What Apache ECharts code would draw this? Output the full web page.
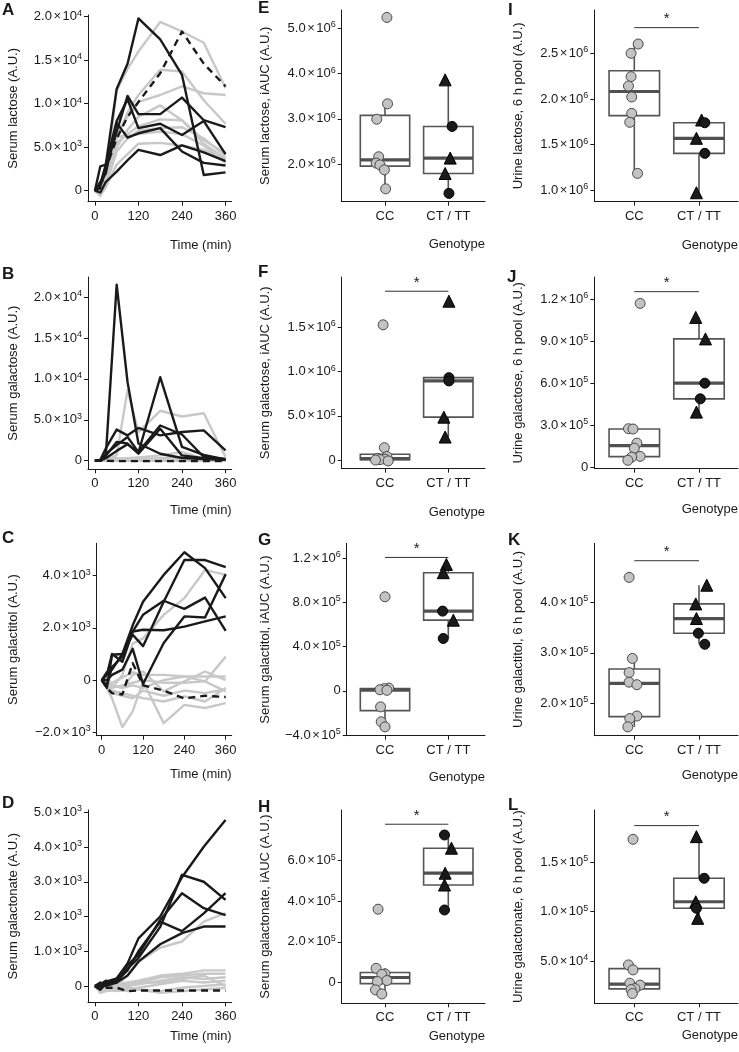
<!DOCTYPE html>
<html><head><meta charset="utf-8">
<script src="https://cdn.jsdelivr.net/npm/echarts@6/dist/echarts.min.js"></script>
<style>html,body{margin:0;padding:0;background:#fff}#c{width:739px;height:1052px}</style>
</head><body><div id="c"></div>
<script>
// ---------------- DATA ----------------
const TIME = [0, 15, 30, 60, 90, 120, 180, 240, 300, 360];
const TIME_TICKS = [0, 120, 240, 360];
const GENOTYPES = ['CC', 'CT / TT'];

// A: serum lactose time courses
const A_cc = [
  [0, -400, 1500, 11500, 14000, 16000, 19400, 18300, 17000, 11800],
  [0, -600, 800, 6000, 9000, 11000, 13900, 13700, 10400, 7700],
  [0, -300, 1200, 6500, 8500, 10200, 11000, 12000, 11200, 11000],
  [0, -500, 700, 5000, 7000, 8500, 9800, 8100, 5800, 4300],
  [0, -400, 900, 5500, 6500, 7400, 8200, 8100, 5400, 3700],
  [0, -300, 600, 4500, 6000, 6900, 7200, 7300, 6000, 4000],
  [0, -500, 400, 3000, 4200, 5400, 5500, 5200, 4700, 3600],
  [0, -200, 1000, 6200, 6300, 6500, 6800, 6500, 5200, 3200]
];
const A_ct = [
  [0, 2800, 3000, 11700, 14600, 19800, 17400, 13300, 1800, 2100],
  [0, 500, 2500, 6800, 10900, 8800, 8800, 10700, 8100, 7300],
  [0, 800, 3000, 8000, 10500, 7200, 7700, 6400, 8000, 4200],
  [0, -200, 1000, 2200, 3500, 4700, 4100, 5200, 4400, 3400],
  [0, 1000, 2000, 7800, 6100, 6600, 7200, 4500, 3200, 2900]
];
const A_dash = [0, 300, 2500, 6000, 8500, 10200, 13500, 18300, 14600, 12000];
const A_ticks = [0, 5000, 10000, 15000, 20000];

// B: serum galactose
const B_cc = [
  [0, 0, 100, 650, 8600, 3500, 6100, 5400, 5800, 450],
  [0, 0, 50, 200, 300, 400, 650, 1050, 250, 100],
  [0, 0, 0, 100, 150, 200, 300, 500, 200, 50],
  [0, 0, 0, 50, 100, 150, 200, 150, 100, 50],
  [0, 0, 0, 0, 50, 50, 100, 100, 50, 0],
  [0, 50, 100, 300, 200, 100, 100, 50, 50, 0],
  [0, 0, 50, 100, 100, 50, 50, 0, 0, 0],
  [0, 0, 0, 0, 0, 0, 0, 0, 0, 0]
];
const B_ct = [
  [0, 0, 500, 21500, 9600, 2100, 850, 330, 200, 100],
  [0, 0, 300, 1200, 2000, 1000, 10200, 1700, 700, 150],
  [0, 100, 1500, 3800, 3100, 4000, 3100, 3500, 3700, 1250],
  [0, 0, 800, 1900, 2900, 1050, 4300, 3200, 450, 200],
  [0, 0, 600, 2300, 2100, 850, 3900, 650, 300, 100]
];
const B_dash = [0, 0, -20, -50, -50, -50, -50, -50, -50, -50];
const B_ticks = [0, 5000, 10000, 15000, 20000];

// C: serum galactitol
const C_cc = [
  [0, -100, -300, 200, 1400, 1600, 2500, 3140, 4220, 4030],
  [0, -300, -700, -1800, -1200, -50, -1650, -950, -1070, -880],
  [0, 100, -200, -300, 200, 330, -430, -50, 330, 0],
  [0, -200, -100, 100, 300, 200, 200, 140, 140, 140],
  [0, -200, -400, -500, -600, -690, -820, -625, -820, -300],
  [0, 0, -300, -200, -100, 0, -100, -100, -50, 900],
  [0, -100, -200, -300, -200, -300, 0, 140, -50, -430],
  [0, -300, -500, -600, -700, -400, -600, -400, -500, -350]
];
const C_ct = [
  [0, -300, 970, 1000, 2100, 3000, 4030, 4900, 4290, 3140],
  [0, 300, 400, 1000, 1740, 1300, 3000, 4600, 4600, 4330],
  [0, -200, 500, 900, 1860, 2500, 3040, 2730, 3160, 1890],
  [0, 200, 1000, 700, 1860, 1930, 1910, 2050, 2250, 2440],
  [0, 0, 200, 400, 1200, -150, 1420, 2440, 2400, 4060]
];
const C_dash = [0, -300, -500, -550, 650, -200, -400, -700, -600, -650];
const C_ticks = [-2000, 0, 2000, 4000];

// D: serum galactonate
const D_cc = [
  [0, -50, -100, 0, 300, 700, 1100, 1280, 1850, 2100],
  [0, -100, -50, 50, 100, 150, 300, 350, 450, 450],
  [0, -150, -100, -50, 50, 100, 250, 300, 350, 350],
  [0, -100, -150, -100, 0, 50, 150, 250, 200, 250],
  [0, -50, -100, -150, -100, -50, 50, 150, 100, 150],
  [0, -200, -150, -100, -150, -100, -150, -50, 0, 50],
  [0, -100, -50, 0, -50, -100, -200, -150, -100, -50],
  [0, -50, 0, 50, 0, 100, 100, 200, 300, 0]
];
const D_ct = [
  [0, -100, 120, 220, 650, 1370, 2000, 3130, 4010, 4780],
  [0, 100, 0, 100, 500, 800, 1700, 3200, 3000, 2480],
  [0, 0, 100, 200, 600, 900, 1900, 2670, 2240, 2040],
  [0, -100, 50, 150, 450, 1000, 1850, 1580, 2090, 2670],
  [0, 50, 150, 100, 300, 700, 1200, 1520, 1710, 1710]
];
const D_dash = [0, -100, -50, -50, -150, -130, -130, -130, -130, -130];
const D_ticks = [0, 1000, 2000, 3000, 4000, 5000];

// E-L: per-subject values (CC group and CT/TT group)
const E_cc = [5.24e6, 3.33e6, 2.99e6, 2.16e6, 2.02e6, 1.98e6, 1.87e6, 1.45e6];
const E_cc_jit = [0.03, 0.04, -0.13, -0.10, -0.14, -0.08, -0.01, 0.01];
const E_ct = [3.86e6, 2.83e6, 2.13e6, 1.79e6, 1.35e6];
const E_ct_shape = ['tri', 'circ', 'tri', 'tri', 'circ'];
const E_ct_jit = [-0.05, 0.06, 0.03, -0.05, 0.01];
const E_ticks = [2e6, 3e6, 4e6, 5e6];

const F_cc = [1.53e6, 0.14e6, 0.04e6, 0.02e6, 0.01e6, 0.005e6, 0, -0.01e6];
const F_cc_jit = [-0.03, -0.01, 0.03, -0.12, 0.0, -0.08, -0.15, 0.05];
const F_ct = [1.797e6, 0.932e6, 0.895e6, 0.485e6, 0.26e6];
const F_ct_shape = ['tri', 'circ', 'circ', 'tri', 'tri'];
const F_ct_jit = [0.01, 0.01, 0.01, -0.07, -0.05];
const F_sig = 1.91e6;
const F_ticks = [0, 5e5, 1e6, 1.5e6];

const G_cc = [0.852e6, 0.025e6, 0.02e6, 0.01e6, 0.005e6, -0.145e6, -0.28e6, -0.326e6];
const G_cc_jit = [0, 0.06, -0.01, -0.08, 0.03, -0.07, -0.06, 0];
const G_ct = [1.145e6, 1.07e6, 0.722e6, 0.64e6, 0.474e6];
const G_ct_shape = ['tri', 'tri', 'circ', 'tri', 'circ'];
const G_ct_jit = [-0.03, -0.08, -0.09, 0.08, -0.08];
const G_sig = 1.208e6;
const G_ticks = [-4e5, 0, 4e5, 8e5, 1.2e6];

const H_cc = [3.61e5, 0.70e5, 0.43e5, 0.40e5, 0.10e5, 0.05e5, -0.36e5, -0.56e5];
const H_cc_jit = [-0.11, -0.14, 0, -0.05, 0.03, -0.12, -0.15, -0.05];
const H_ct = [7.26e5, 6.61e5, 5.38e5, 4.80e5, 3.57e5];
const H_ct_shape = ['circ', 'tri', 'tri', 'tri', 'circ'];
const H_ct_jit = [-0.06, 0.05, -0.05, -0.06, -0.06];
const H_sig = 7.79e5;
const H_ticks = [0, 2e5, 4e5, 6e5];

const I_cc = [2.602e6, 2.5e6, 2.245e6, 2.142e6, 2.022e6, 1.843e6, 1.745e6, 1.186e6];
const I_cc_jit = [0.06, -0.05, -0.05, -0.09, -0.04, -0.04, -0.07, 0.05];
const I_ct = [1.77e6, 1.74e6, 1.57e6, 1.405e6, 0.974e6];
const I_ct_shape = ['tri', 'circ', 'tri', 'circ', 'tri'];
const I_ct_jit = [0.04, 0.09, -0.04, 0.09, -0.04];
const I_sig = 2.781e6;
const I_ticks = [1e6, 1.5e6, 2e6, 2.5e6];

const J_cc = [11.71e5, 2.74e5, 2.72e5, 1.71e5, 1.35e5, 0.76e5, 0.71e5, 0.48e5];
const J_cc_jit = [0.09, -0.09, -0.02, 0.04, 0, 0.09, -0.04, -0.1];
const J_ct = [10.71e5, 9.17e5, 6.0e5, 4.88e5, 3.93e5];
const J_ct_shape = ['tri', 'tri', 'circ', 'circ', 'tri'];
const J_ct_jit = [-0.05, 0.1, 0.09, 0.02, -0.04];
const J_sig = 12.55e5;
const J_ticks = [0, 3e5, 6e5, 9e5, 1.2e6];

const K_cc = [4.495e5, 2.89e5, 2.61e5, 2.42e5, 2.37e5, 1.75e5, 1.70e5, 1.535e5];
const K_cc_jit = [-0.08, -0.03, -0.08, -0.08, 0.04, 0.04, -0.07, -0.1];
const K_ct = [4.34e5, 3.97e5, 3.68e5, 3.39e5, 3.17e5];
const K_ct_shape = ['tri', 'tri', 'tri', 'circ', 'circ'];
const K_ct_jit = [0.12, -0.05, -0.04, -0.01, 0.09];
const K_sig = 4.825e5;
const K_ticks = [2e5, 3e5, 4e5];

const L_cc = [17.33e4, 4.6e4, 4.1e4, 2.75e4, 2.55e4, 2.2e4, 2.1e4, 1.7e4];
const L_cc_jit = [-0.02, -0.09, -0.02, -0.07, 0.09, 0.01, -0.05, -0.03];
const L_ct = [17.6e4, 13.38e4, 11.0e4, 10.34e4, 9.32e4];
const L_ct_shape = ['tri', 'circ', 'tri', 'circ', 'tri'];
const L_ct_jit = [-0.04, 0.08, -0.05, -0.04, -0.02];
const L_sig = 18.72e4;
const L_ticks = [5e4, 1e5, 1.5e5];

// ---------------- LAYOUT / STYLE ----------------
const FONT = "'Liberation Sans', Arial, Helvetica, sans-serif";
const INK = '#1a1a1a';
const GRAY_LINE = '#c8c8c8';
const BOX_W = 0.78;

function sciLabel(v) {
  if (Math.abs(v) < 1e-9) return '{m|0}';
  const neg = v < 0, a = Math.abs(v);
  const e = Math.floor(Math.log10(a) + 1e-9);
  const m = (a / Math.pow(10, e)).toFixed(1);
  return '{m|' + (neg ? '\u2212' : '') + m + '}{x|\u00d7}{m|10}{e|' + e + '}';
}
const RICH = {
  m: {fontSize: 13, fontFamily: FONT, color: INK, lineHeight: 16},
  x: {fontSize: 13, fontFamily: FONT, color: INK, lineHeight: 16, padding: [0, 1.5, 0, 1.5]},
  e: {fontSize: 9, fontFamily: FONT, color: INK, lineHeight: 9, verticalAlign: 'top'}
};

function q7(s, p) { const h = (s.length - 1) * p, lo = Math.floor(h), hi = Math.ceil(h); return s[lo] + (h - lo) * (s[hi] - s[lo]); }
function boxStats(vals) {
  const s = vals.slice().sort((a, b) => a - b);
  const q1 = q7(s, 0.25), med = q7(s, 0.5), q3 = q7(s, 0.75), iqr = q3 - q1;
  const lo = Math.min.apply(null, s.filter(v => v >= q1 - 1.5 * iqr));
  const hi = Math.max.apply(null, s.filter(v => v <= q3 + 1.5 * iqr));
  return [q1, med, q3, lo, hi];
}

const grids = [], xAxes = [], yAxes = [], series = [], titles = [];
const axisLineStyle = {color: INK, width: 1};

function addTitle(t, left, top) {
  titles.push({text: t, left: left, top: top, padding: 0,
    textStyle: {fontSize: 17, fontWeight: 'bold', fontFamily: FONT, color: INK}});
}

function makeAxes(g, box, xr, xticks, xfmt, xname, namePad, yr, yticks, yname, ygap) {
  grids.push({left: box[0], top: box[1], width: box[2] - box[0], height: box[3] - box[1],
    containLabel: false, outerBoundsMode: 'none'});
  xAxes.push({type: 'value', gridIndex: g, min: xr[0], max: xr[1],
    axisLine: {show: true, onZero: false, lineStyle: axisLineStyle},
    axisTick: {show: true, customValues: xticks, length: 4, lineStyle: axisLineStyle},
    axisLabel: {customValues: xticks, formatter: xfmt, margin: 8, fontSize: 13, fontFamily: FONT, color: INK},
    splitLine: {show: false},
    name: xname, nameLocation: 'end', nameGap: 0,
    nameTextStyle: {align: 'right', verticalAlign: 'top', padding: [namePad, 0, 0, 0], fontSize: 13, fontFamily: FONT, color: INK}
  });
  yAxes.push({type: 'value', gridIndex: g, min: yr[0], max: yr[1],
    axisLine: {show: true, onZero: false, lineStyle: axisLineStyle},
    axisTick: {show: true, customValues: yticks, length: 4, lineStyle: axisLineStyle},
    axisLabel: {customValues: yticks, formatter: sciLabel, rich: RICH, margin: 6},
    splitLine: {show: false},
    name: yname, nameLocation: 'middle', nameGap: ygap,
    nameTextStyle: {fontSize: 13, fontFamily: FONT, color: INK}
  });
}

function linePanel(p) {
  const g = grids.length;
  makeAxes(g, p.box, p.xr, TIME_TICKS, v => String(v), 'Time (min)', p.namePad, p.yr, p.ticks, p.yname, p.ygap);
  const mk = (arr, color, type, z) => ({type: 'line', xAxisIndex: g, yAxisIndex: g, silent: true, animation: false,
    data: TIME.map((t, j) => [t, arr[j]]), symbol: 'none', z: z,
    lineStyle: {color: color, width: 2.4, type: type, cap: 'butt', join: 'round'}});
  p.gray.forEach(a => series.push(mk(a, GRAY_LINE, 'solid', 2)));
  p.black.forEach(a => series.push(mk(a, INK, 'solid', 3)));
  series.push(mk(p.dash, INK, [7, 5], 3));
}

function boxPanel(p) {
  const g = grids.length;
  const c1 = p.centers[0], c2 = p.centers[1], u = c2 - c1;
  const xr = [1 - (c1 - p.box[0]) / u, 2 + (p.box[2] - c2) / u];
  makeAxes(g, p.box, xr, [1, 2], v => GENOTYPES[Math.round(v) - 1], 'Genotype', p.namePad, p.yr, p.ticks, p.yname, p.ygap);
  series.push({type: 'custom', xAxisIndex: g, yAxisIndex: g, silent: true, animation: false, z: 2,
    data: [[1].concat(boxStats(p.cc)), [2].concat(boxStats(p.ct))],
    renderItem: (params, api) => {
      const x = api.value(0);
      const w = api.size([BOX_W, 0])[0];
      const pq1 = api.coord([x, api.value(1)]), pm = api.coord([x, api.value(2)]), pq3 = api.coord([x, api.value(3)]);
      const plo = api.coord([x, api.value(4)]), phi = api.coord([x, api.value(5)]);
      const st = {stroke: '#555', lineWidth: 1.6};
      return {type: 'group', children: [
        {type: 'line', shape: {x1: phi[0], y1: phi[1], x2: pq3[0], y2: pq3[1]}, style: st},
        {type: 'line', shape: {x1: pq1[0], y1: pq1[1], x2: plo[0], y2: plo[1]}, style: st},
        {type: 'rect', shape: {x: pq3[0] - w / 2, y: pq3[1], width: w, height: pq1[1] - pq3[1]}, style: {fill: '#fff', stroke: '#555', lineWidth: 1.6}},
        {type: 'line', shape: {x1: pm[0] - w / 2, y1: pm[1], x2: pm[0] + w / 2, y2: pm[1]}, style: {stroke: '#505050', lineWidth: 3.2}}
      ]};
    }});
  series.push({type: 'scatter', xAxisIndex: g, yAxisIndex: g, silent: true, animation: false, z: 4,
    data: p.cc.map((v, j) => [1 + p.ccJit[j], v]), symbol: 'circle', symbolSize: 10,
    itemStyle: {color: '#c3c3c3', borderColor: '#4a4a4a', borderWidth: 1, opacity: 1}});
  series.push({type: 'scatter', xAxisIndex: g, yAxisIndex: g, silent: true, animation: false, z: 4,
    data: p.ct.map((v, j) => ({value: [2 + p.ctJit[j], v],
      symbol: p.ctShape[j] === 'tri' ? 'triangle' : 'circle', symbolSize: p.ctShape[j] === 'tri' ? 12 : 10})),
    itemStyle: {color: INK, borderColor: '#000', borderWidth: 1, opacity: 1}});
  if (p.sig !== undefined) {
    series.push({type: 'custom', xAxisIndex: g, yAxisIndex: g, silent: true, animation: false, z: 5,
      data: [[1, 2, p.sig]],
      renderItem: (params, api) => {
        const a = api.coord([api.value(0), api.value(2)]), b = api.coord([api.value(1), api.value(2)]);
        return {type: 'group', children: [
          {type: 'line', shape: {x1: a[0], y1: a[1], x2: b[0], y2: b[1]}, style: {stroke: '#333', lineWidth: 1}},
          {type: 'text', style: {text: '*', x: (a[0] + b[0]) / 2, y: a[1] - 1, align: 'center', verticalAlign: 'bottom',
            fontSize: 15, fontFamily: FONT, fill: INK}}
        ]};
      }});
  }
}

// Column 1
linePanel({box: [88, 15, 231.7, 201.7], xr: [-19, 377], yr: [-1264, 20195], ticks: A_ticks, yname: 'Serum lactose (A.U.)', ygap: 68, namePad: 37,
  gray: A_cc, black: A_ct, dash: A_dash});
linePanel({box: [88, 277, 231.7, 469.3], xr: [-19, 377], yr: [-1050, 22445], ticks: B_ticks, yname: 'Serum galactose (A.U.)', ygap: 68, namePad: 35,
  gray: B_cc, black: B_ct, dash: B_dash});
linePanel({box: [96.7, 543.3, 231.7, 735.7], xr: [-14.5, 377.4], yr: [-2130, 5241], ticks: C_ticks, yname: 'Serum galactitol (A.U.)', ygap: 77, namePad: 32,
  gray: C_cc, black: C_ct, dash: C_dash});
linePanel({box: [88, 810, 231.7, 1002.3], xr: [-19, 377], yr: [-470, 5066], ticks: D_ticks, yname: 'Serum galactonate (A.U.)', ygap: 68, namePad: 28,
  gray: D_cc, black: D_ct, dash: D_dash});

// Column 2
const C2 = [385, 448.3];
boxPanel({box: [341.7, 10, 485, 201.7], centers: C2, yr: [1.166e6, 5.405e6], ticks: E_ticks, yname: 'Serum lactose, iAUC (A.U.)', ygap: 70, namePad: 36,
  cc: E_cc, ccJit: E_cc_jit, ct: E_ct, ctShape: E_ct_shape, ctJit: E_ct_jit});
boxPanel({box: [341.7, 277, 485, 468.7], centers: C2, yr: [-0.098e6, 2.071e6], ticks: F_ticks, yname: 'Serum galactose, iAUC (A.U.)', ygap: 70, namePad: 37,
  cc: F_cc, ccJit: F_cc_jit, ct: F_ct, ctShape: F_ct_shape, ctJit: F_ct_jit, sig: F_sig});
boxPanel({box: [346.7, 543.3, 485, 735.7], centers: C2, yr: [-0.406e6, 1.336e6], ticks: G_ticks, yname: 'Serum galactitol, iAUC (A.U.)', ygap: 75, namePad: 35,
  cc: G_cc, ccJit: G_cc_jit, ct: G_ct, ctShape: G_ct_shape, ctJit: G_ct_jit, sig: G_sig});
boxPanel({box: [341.7, 810, 485, 1003.3], centers: C2, yr: [-1.02e5, 8.49e5], ticks: H_ticks, yname: 'Serum galactonate, iAUC (A.U.)', ygap: 70, namePad: 27,
  cc: H_cc, ccJit: H_cc_jit, ct: H_ct, ctShape: H_ct_shape, ctJit: H_ct_jit, sig: H_sig});

// Column 3
const C3 = [634.3, 699];
boxPanel({box: [594.3, 10, 738, 201.7], centers: C3, yr: [0.876e6, 2.974e6], ticks: I_ticks, yname: 'Urine lactose, 6 h pool (A.U.)', ygap: 69, namePad: 37,
  cc: I_cc, ccJit: I_cc_jit, ct: I_ct, ctShape: I_ct_shape, ctJit: I_ct_jit, sig: I_sig});
boxPanel({box: [594.3, 277, 738, 468.7], centers: C3, yr: [-0.12e5, 13.6e5], ticks: J_ticks, yname: 'Urine galactose, 6 h pool (A.U.)', ygap: 69, namePad: 34,
  cc: J_cc, ccJit: J_cc_jit, ct: J_ct, ctShape: J_ct_shape, ctJit: J_ct_jit, sig: J_sig});
boxPanel({box: [594.3, 543.3, 738, 735.7], centers: C3, yr: [1.36e5, 5.17e5], ticks: K_ticks, yname: 'Urine galactitol, 6 h pool (A.U.)', ygap: 69, namePad: 33,
  cc: K_cc, ccJit: K_cc_jit, ct: K_ct, ctShape: K_ct_shape, ctJit: K_ct_jit, sig: K_sig});
boxPanel({box: [594.3, 810, 738, 1003.3], centers: C3, yr: [0.071e5, 2.03e5], ticks: L_ticks, yname: 'Urine galactonate, 6 h pool (A.U.)', ygap: 69, namePad: 26,
  cc: L_cc, ccJit: L_cc_jit, ct: L_ct, ctShape: L_ct_shape, ctJit: L_ct_jit, sig: L_sig});

// Panel letters
addTitle('A', 2, 2); addTitle('B', 2, 266); addTitle('C', 2, 530); addTitle('D', 2, 795);
addTitle('E', 258, 0); addTitle('F', 258, 264); addTitle('G', 258, 532); addTitle('H', 258, 799);
addTitle('I', 508, 2); addTitle('J', 507, 269); addTitle('K', 508, 532); addTitle('L', 508, 797);

const chart = echarts.init(document.getElementById('c'), null, {renderer: 'canvas'});
chart.setOption({
  backgroundColor: '#fff', animation: false,
  textStyle: {fontFamily: FONT, color: INK},
  title: titles, grid: grids, xAxis: xAxes, yAxis: yAxes, series: series
});
</script>
</body></html>
